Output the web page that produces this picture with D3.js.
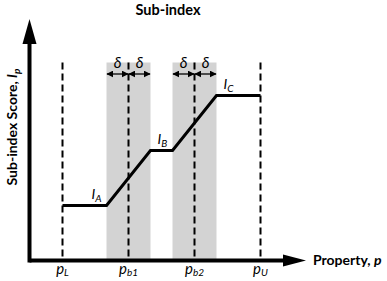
<!DOCTYPE html>
<html>
<head>
<meta charset="utf-8">
<script src="https://cdn.jsdelivr.net/npm/d3@7"></script>
<style>
  body { margin: 0; background: #fff; }
  text { font-family: Lato, "Open Sans", sans-serif; }
</style>
</head>
<body>
<div id="chart-area"></div>
<script>
let width = 387,
    height = 281;

// breakpoints on the property axis
const tickNames = ["L", "b1", "b2", "U"];
const tickValues = [1, 2, 3, 4];
const delta = 1 / 3;

// piecewise sub-index curve
const curveP = [1, 1.667, 2.333, 2.667, 3.333, 4];
const curveI = [1, 1, 2, 2, 3, 3];

// level labels
const levelNames = ["A", "B", "C"];
const levelP = [1.5, 2.5, 3.5];
const levelI = [1, 2, 3];

const svg = d3.select("#chart-area")
  .append("svg")
  .attr("width", width)
  .attr("height", height);

let x = d3.scaleLinear().domain([1, 4]).range([62.5, 260.5]);
let y = d3.scaleLinear().domain([0, 3]).range([260.5, 95.5]);

const x0 = x(0.5), y0 = y(0);
const topI = 3.6;

// shaded transition bands
svg.append("g")
  .selectAll("rect")
  .data([tickValues[1], tickValues[2]])
  .join("rect")
  .attr("x", d => x(d - delta))
  .attr("width", d => x(d + delta) - x(d - delta))
  .attr("y", y(topI))
  .attr("height", y0 - y(topI))
  .attr("fill", "#d3d3d3");

// dashed verticals
svg.append("g")
  .selectAll("line")
  .data(tickValues)
  .join("line")
  .attr("x1", d => x(d)).attr("x2", d => x(d))
  .attr("y1", y(topI)).attr("y2", y0)
  .attr("stroke", "black")
  .attr("stroke-width", 2)
  .attr("stroke-dasharray", "7,4");

// delta arrows
svg.append("defs").append("marker")
  .attr("id", "dh")
  .attr("viewBox", "0 0 10 10")
  .attr("refX", 9).attr("refY", 5)
  .attr("markerWidth", 7).attr("markerHeight", 7)
  .attr("markerUnits", "userSpaceOnUse")
  .attr("orient", "auto-start-reverse")
  .append("path")
  .attr("d", "M0,0L10,5L0,10z")
  .attr("fill", "black");

const deltaSegs = [];
[tickValues[1], tickValues[2]].forEach(c => {
  deltaSegs.push([c - delta, c]);
  deltaSegs.push([c, c + delta]);
});
const ay = 74;
const dg = svg.append("g");
dg.selectAll("line")
  .data(deltaSegs)
  .join("line")
  .attr("x1", d => x(d[0]) + 0.5).attr("x2", d => x(d[1]) - 0.5)
  .attr("y1", ay).attr("y2", ay)
  .attr("stroke", "black")
  .attr("stroke-width", 1.3)
  .attr("marker-start", "url(#dh)")
  .attr("marker-end", "url(#dh)");
dg.selectAll("text")
  .data(deltaSegs)
  .join("text")
  .attr("x", d => x((d[0] + d[1]) / 2))
  .attr("y", 68)
  .attr("text-anchor", "middle")
  .attr("font-size", 15)
  .attr("font-style", "italic")
  .text("δ");

// sub-index curve
const pts = curveP.map((p, i) => [p, curveI[i]]);
svg.append("path")
  .datum(pts)
  .attr("fill", "none")
  .attr("stroke", "black")
  .attr("stroke-width", 3)
  .attr("d", d3.line().x(d => x(d[0])).y(d => y(d[1])));

// level labels
const lv = svg.append("g")
  .selectAll("text")
  .data(levelNames)
  .join("text")
  .attr("x", (d, i) => x(levelP[i]) - 4)
  .attr("y", (d, i) => y(levelI[i]) - 7)
  .attr("font-size", 14)
  .attr("font-style", "italic");
lv.append("tspan").text("I");
lv.append("tspan").attr("font-size", 10).attr("dy", 3).text(d => d);

// axes with arrowheads
svg.append("line")
  .attr("x1", x0).attr("x2", 290)
  .attr("y1", y0).attr("y2", y0)
  .attr("stroke", "black").attr("stroke-width", 4);
svg.append("path")
  .attr("d", `M283,${y0 - 6}L306,${y0}L283,${y0 + 6}z`)
  .attr("fill", "black");
svg.append("line")
  .attr("x1", x0).attr("x2", x0)
  .attr("y1", y0 + 2).attr("y2", 40)
  .attr("stroke", "black").attr("stroke-width", 4);
svg.append("path")
  .attr("d", `M${x0 - 7},44L${x0},19L${x0 + 7},44z`)
  .attr("fill", "black");

// tick labels
const tl = svg.append("g")
  .selectAll("text")
  .data(tickNames)
  .join("text")
  .attr("x", (d, i) => x(tickValues[i]))
  .attr("y", 274)
  .attr("text-anchor", "middle")
  .attr("font-size", 15)
  .attr("font-style", "italic");
tl.append("tspan").text("p");
tl.append("tspan").attr("font-size", 10).attr("dy", 2).text(d => d);

// titles
svg.append("text")
  .attr("x", 168).attr("y", 15)
  .attr("text-anchor", "middle")
  .attr("font-size", 14.5).attr("font-weight", "bold")
  .text("Sub-index");

const xl = svg.append("text")
  .attr("x", 313).attr("y", 265)
  .attr("font-size", 14).attr("font-weight", "bold");
xl.append("tspan").text("Property, ");
xl.append("tspan").attr("font-style", "italic").text("p");

const yl = svg.append("text")
  .attr("transform", "translate(17,127) rotate(-90)")
  .attr("text-anchor", "middle")
  .attr("font-size", 14).attr("font-weight", "bold");
yl.append("tspan").text("Sub-index Score, ");
yl.append("tspan").attr("font-style", "italic").text("I");
yl.append("tspan").attr("font-style", "italic").attr("font-size", 10).attr("dy", 3).text("p");
</script>
</body>
</html>
